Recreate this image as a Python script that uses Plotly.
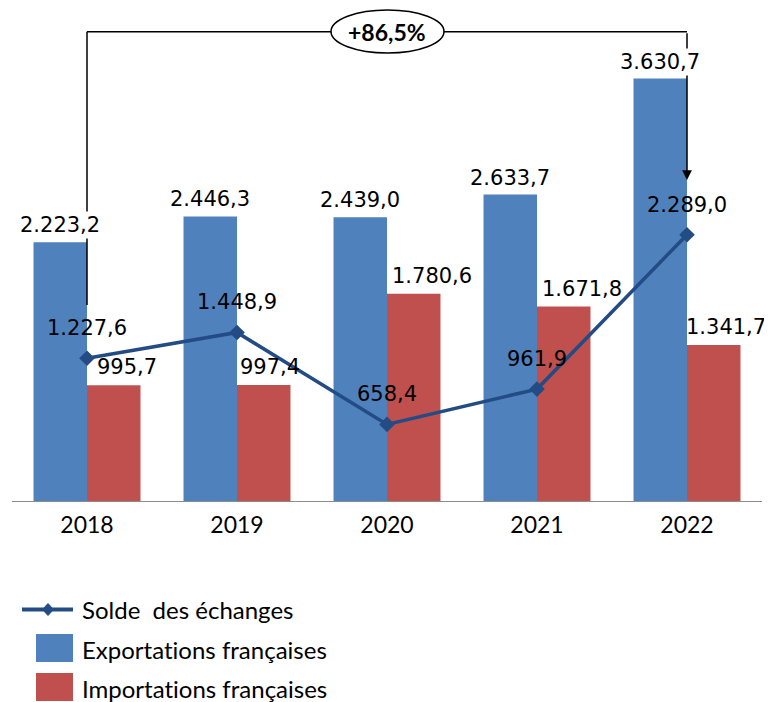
import plotly.graph_objects as go

# ---------------- data ----------------
years = ["2018", "2019", "2020", "2021", "2022"]
exports = [2223.2, 2446.3, 2439.0, 2633.7, 3630.7]
imports = [995.7, 997.4, 1780.6, 1671.8, 1341.7]
solde = [1227.6, 1448.9, 658.4, 961.9, 2289.0]
growth_label = "+86,5%"
legend_names = ["Solde\u00a0 des échanges", "Exportations françaises", "Importations françaises"]

# ---------------- style ----------------
C_EXP = "#4F81BD"
C_IMP = "#C0504D"
C_LINE = "#244C84"
LBL_FONT = dict(family="DejaVu Sans", size=21, color="black")
TXT_FONT = dict(family="Lato", size=23, color="black")
LEG_FONT = dict(family="Lato", size=24, color="black")
imp_xshift = [13, 6, 18, 18, 12]

OFF = 8  # page body margin
W, H = 772 - OFF, 702 - OFF
L, R, T, B = 12 - OFF, 10, 0, 201
PW, PH = W - L - R, H - T - B
SCALE = 0.11634  # px per unit
YMAX = PH / SCALE
xs = list(range(len(years)))


def fr(v):
    s = f"{v:,.1f}"
    return s.replace(",", "X").replace(".", ",").replace("X", ".")


def no_lig(s):
    # avoid the Lato "ti" ligature
    return s.replace("ti", "t\u200ci")


# helpers: convert window pixel positions (decorations only) to axis / paper coords
def ydat(py):
    return (H - B - (py - OFF)) / SCALE


def xdat(px):
    return ((px - OFF) - L) / (PW / len(years)) - 0.5


def xp(px):
    return ((px - OFF) - L) / PW


def yp(py):
    return (H - B - (py - OFF)) / PH


fig = go.Figure()
fig.add_trace(go.Bar(x=xs, y=exports, name=legend_names[1], marker=dict(color=C_EXP, line=dict(width=0)),
                     offsetgroup="e", showlegend=False, hoverinfo="skip"))
fig.add_trace(go.Bar(x=xs, y=imports, name=legend_names[2], marker=dict(color=C_IMP, line=dict(width=0)),
                     offsetgroup="i", showlegend=False, hoverinfo="skip"))
fig.add_trace(go.Scatter(x=xs, y=solde, name=legend_names[0], mode="lines+markers",
                         line=dict(color=C_LINE, width=3.5),
                         marker=dict(symbol="diamond", size=12, color=C_LINE),
                         showlegend=False, hoverinfo="skip"))

bw = (1 - 0.287) / 2
ann = []
shapes = []

# bracket
top_y = ydat(31.7)
shapes.append(dict(type="line", xref="x", yref="y", x0=0, x1=4, y0=top_y, y1=top_y,
                   line=dict(color="black", width=1.5)))
shapes.append(dict(type="line", xref="x", yref="y", x0=0, x1=0, y0=top_y, y1=ydat(305),
                   line=dict(color="black", width=1.5)))
shapes.append(dict(type="circle", xref="x", yref="y", x0=xdat(331), x1=xdat(444),
                   y0=ydat(53), y1=ydat(10), fillcolor="white",
                   line=dict(color="black", width=1.5)))
ann.append(dict(x=4, y=ydat(180), ax=4, ay=top_y, axref="x", ayref="y", xref="x", yref="y",
                text="", showarrow=True, arrowhead=2, arrowsize=1.3, arrowwidth=1.5,
                arrowcolor="black", standoff=0, startstandoff=0))
ann.append(dict(x=2, y=top_y, xref="x", yref="y", text=f"<b>{growth_label}</b>",
                showarrow=False, font=dict(family="Lato", size=23, color="black")))

# data labels
for i in xs:
    ann.append(dict(x=i - bw / 2, y=exports[i], xref="x", yref="y", text=fr(exports[i]),
                    showarrow=False, yshift=17, yanchor="middle", font=LBL_FONT,
                    bgcolor="white", borderpad=1))
    ann.append(dict(x=i + bw / 2, y=imports[i], xref="x", yref="y", text=fr(imports[i]),
                    showarrow=False, yshift=18, xshift=imp_xshift[i], yanchor="middle",
                    font=LBL_FONT))
    ann.append(dict(x=i, y=solde[i], xref="x", yref="y", text=fr(solde[i]),
                    showarrow=False, yshift=30, yanchor="middle", font=LBL_FONT))

# manual legend
shapes.append(dict(type="line", xref="paper", yref="paper", x0=xp(22), x1=xp(73),
                   y0=yp(609.5), y1=yp(609.5), line=dict(color=C_LINE, width=4)))
cx, cy = 48, 609.5
shapes.append(dict(type="path", xref="paper", yref="paper",
                   path=f"M {xp(cx-5.5)},{yp(cy)} L {xp(cx)},{yp(cy-6)} L {xp(cx+5.5)},{yp(cy)} L {xp(cx)},{yp(cy+6)} Z",
                   fillcolor=C_LINE, line=dict(color=C_LINE, width=1)))
shapes.append(dict(type="rect", xref="paper", yref="paper", x0=xp(36), x1=xp(73),
                   y0=yp(662), y1=yp(634), fillcolor=C_EXP, line=dict(width=0)))
shapes.append(dict(type="rect", xref="paper", yref="paper", x0=xp(36), x1=xp(73),
                   y0=yp(701), y1=yp(673), fillcolor=C_IMP, line=dict(width=0)))
for name, py in zip(legend_names, [609, 649, 688]):
    ann.append(dict(x=xp(80), y=yp(py), xref="paper", yref="paper", text=no_lig(name),
                    showarrow=False, xanchor="left", yanchor="middle", font=LEG_FONT))

fig.update_layout(
    width=W, height=H, margin=dict(l=L, r=R, t=T, b=B),
    paper_bgcolor="white", plot_bgcolor="white",
    barmode="group", bargap=0.287, bargroupgap=0,
    showlegend=False,
    xaxis=dict(range=[-0.5, 4.5], tickvals=xs, ticktext=years, showgrid=False, zeroline=False,
               showline=True, linecolor="#8C8C8C", linewidth=1.2,
               ticks="outside", ticklen=3, tickcolor="rgba(0,0,0,0)",
               tickfont=TXT_FONT, fixedrange=True),
    yaxis=dict(range=[0, YMAX], visible=False, fixedrange=True),
    shapes=shapes, annotations=ann,
)

fig.write_html("out.html")
